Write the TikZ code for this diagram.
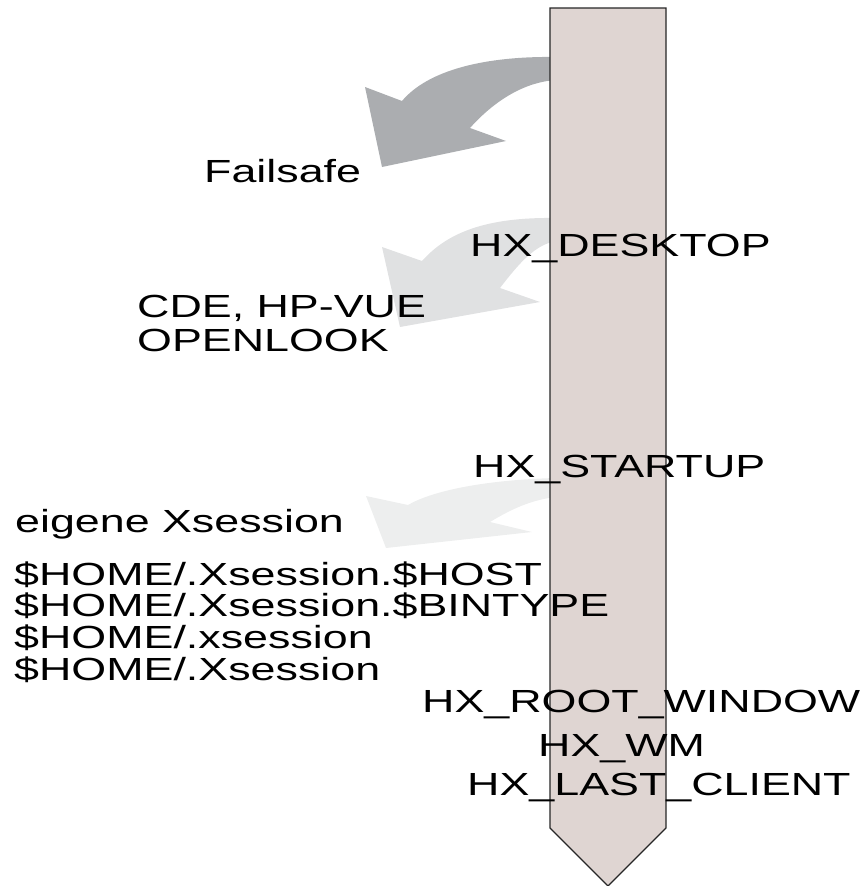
\documentclass[tikz,border=0pt]{standalone}
\usepackage{fontspec}
\setmainfont{Liberation Sans}[FakeStretch=1.4]
\definecolor{colfill}{RGB}{223,213,210}
\definecolor{arrA}{RGB}{171,173,176}
\definecolor{arrB}{RGB}{224,225,226}
\definecolor{arrC}{RGB}{237,238,238}
\begin{document}
\begin{tikzpicture}[x=1pt,y=-1pt,
  lbl/.style={anchor=base west,inner sep=0pt,font=\fontsize{32}{31.5}\selectfont,text=black}]
\useasboundingbox (0,0) rectangle (863,886);
% arrows
\fill[arrA] (556,57) .. controls (485,56) and (428,70) .. (402,101) -- (365,87) -- (382,167) -- (506,141) -- (470,128) .. controls (495,100) and (525,82) .. (556,80) -- cycle;
\fill[arrB] (556,218) .. controls (485,217) and (447,233) .. (422,261) -- (382,247) -- (400,327) -- (540,302) -- (500,288) .. controls (520,262) and (535,245) .. (556,241) -- cycle;
\fill[arrC] (556,478) .. controls (480,480) and (430,492) .. (408,505) -- (366,496) -- (386,548) -- (532,532) -- (490,522) .. controls (510,510) and (530,500) .. (556,497) -- cycle;
% column
\draw[fill=colfill,line width=1.2pt,draw=black!85] (550,8) -- (666,8) -- (666,828) -- (608,886) -- (550,828) -- cycle;
% labels
\node[lbl] (fs) at (204,182) {Failsafe};
\node[lbl] (desk) at (470,256) {HX\_DESKTOP};
\node[lbl] (cde) at (137,317) {CDE, HP-VUE};
\node[lbl] (ol) at (137,351) {OPENLOOK};
\node[lbl] (start) at (473,477) {HX\_STARTUP};
\node[lbl] (eig) at (15,532) {eigene Xsession};
\node[lbl] (h1) at (14,585) {\$HOME/.Xsession.\$HOST};
\node[lbl] (h2) at (14,616) {\$HOME/.Xsession.\$BINTYPE};
\node[lbl] (h3) at (14,648) {\$HOME/.xsession};
\node[lbl] (h4) at (14,680) {\$HOME/.Xsession};
\node[lbl] (root) at (422,712) {HX\_ROOT\_WINDOW};
\node[lbl] (wm) at (538,756) {HX\_WM};
\node[lbl] (last) at (467,795) {HX\_LAST\_CLIENT};
\end{tikzpicture}
\end{document}
